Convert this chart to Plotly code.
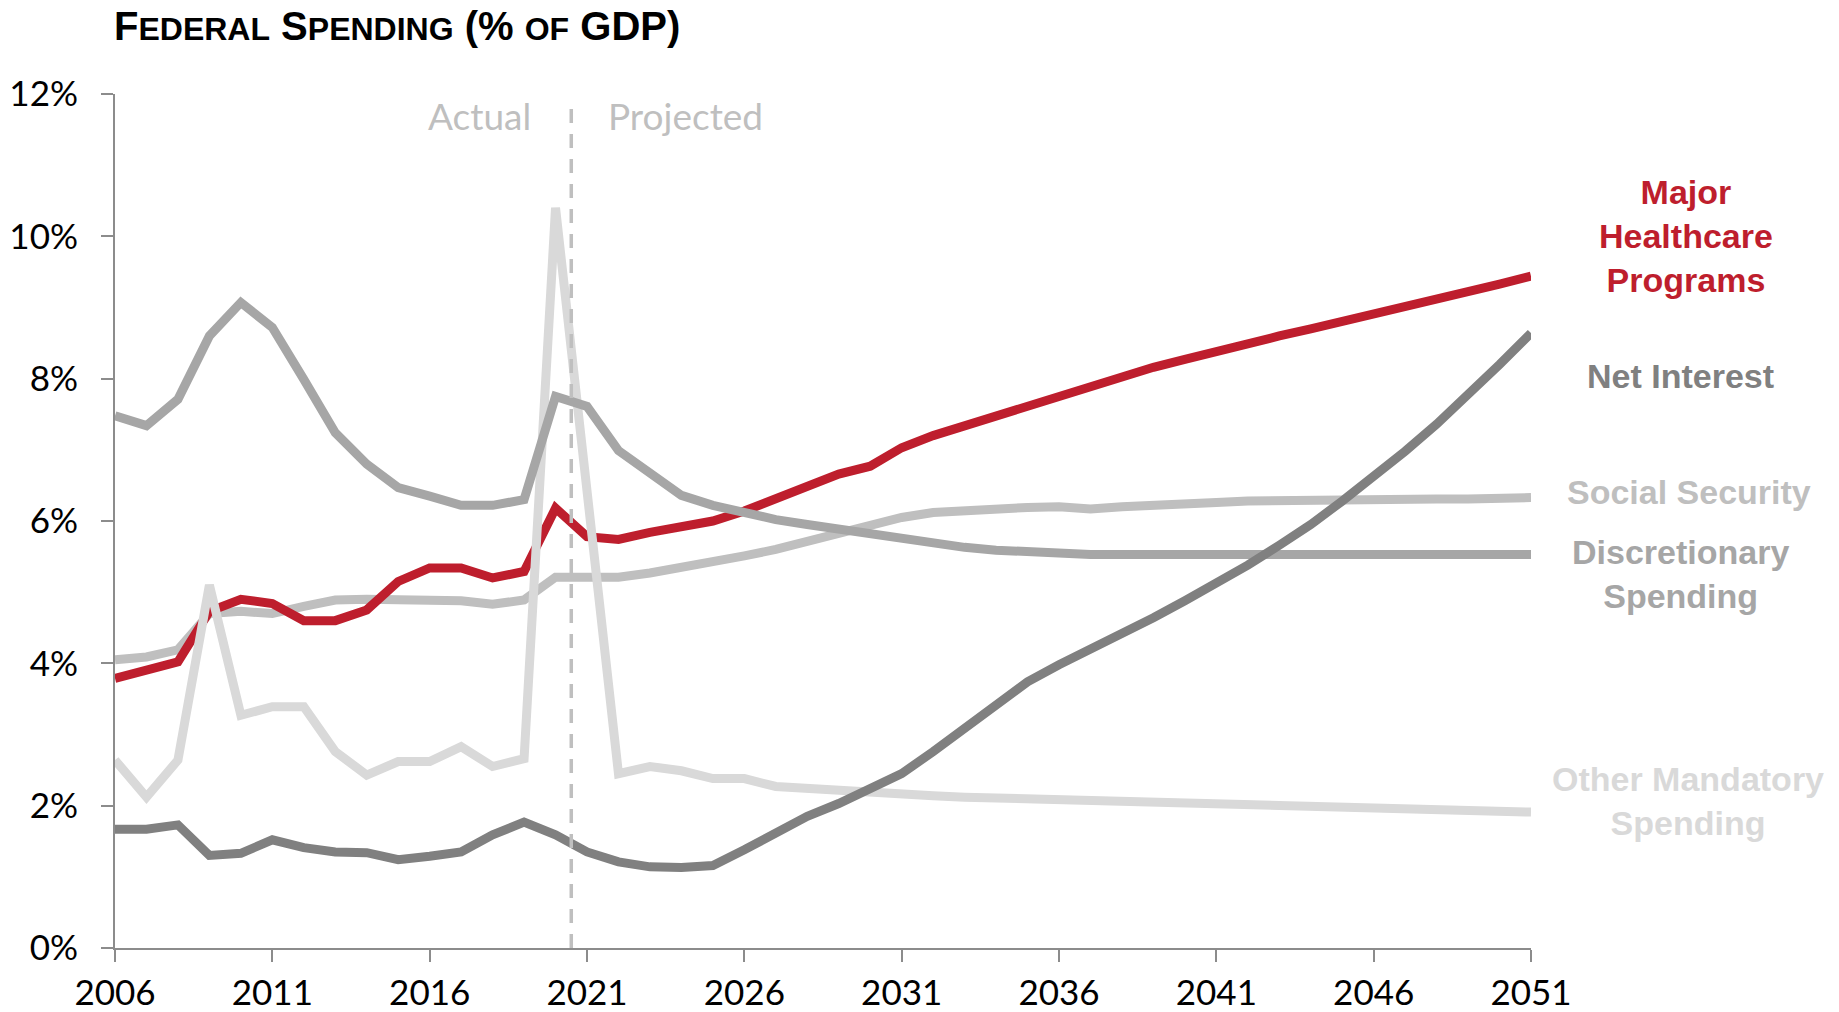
import plotly.graph_objects as go

years = list(range(2006, 2052))

healthcare = [3.79, 3.91, 4.02, 4.73, 4.90, 4.84, 4.60, 4.60, 4.75, 5.15, 5.34, 5.34, 5.20, 5.29,
              6.18, 5.78, 5.74, 5.84, 5.91, 6.00, 6.14, 6.32, 6.49, 6.66,
              6.77, 7.03, 7.20, 7.34, 7.48, 7.62, 7.76, 7.90, 8.04, 8.16,
              8.27, 8.39, 8.49, 8.60, 8.70, 8.80, 8.91, 9.01, 9.12, 9.22, 9.33, 9.44]

social_security = [4.05, 4.09, 4.19, 4.70, 4.73, 4.70, 4.80, 4.89, 4.90, 4.89, 4.91, 4.88, 4.83, 4.89,
                   5.21, 5.20, 5.21, 5.27, 5.34, 5.41, 5.51, 5.60, 5.72, 5.84,
                   5.95, 6.05, 6.12, 6.15, 6.17, 6.19, 6.20, 6.17, 6.20, 6.21,
                   6.22, 6.26, 6.28, 6.29, 6.29, 6.30, 6.30, 6.31, 6.31, 6.31, 6.31, 6.33]

discretionary = [7.48, 7.34, 7.71, 8.60, 9.07, 8.72, 7.99, 7.24, 6.80, 6.47, 6.35, 6.22, 6.22, 6.30,
                 7.75, 7.61, 6.99, 6.67, 6.36, 6.22, 6.11, 6.02, 5.95, 5.88,
                 5.81, 5.74, 5.67, 5.63, 5.59, 5.56, 5.54, 5.53, 5.53, 5.53,
                 5.53, 5.53, 5.53, 5.53, 5.53, 5.53, 5.53, 5.53, 5.53, 5.53, 5.53, 5.53]

other_mandatory = [2.64, 2.12, 2.64, 5.10, 3.27, 3.39, 3.39, 2.76, 2.43, 2.62, 2.62, 2.83, 2.55, 2.66,
                   10.40, 6.42, 2.45, 2.55, 2.49, 2.38, 2.38, 2.27, 2.24, 2.21,
                   2.17, 2.15, 2.14, 2.12, 2.11, 2.10, 2.09, 2.08, 2.07, 2.06,
                   2.05, 2.04, 2.02, 2.01, 2.00, 1.99, 1.97, 1.96, 1.95, 1.93, 1.92, 1.91]

net_interest = [1.67, 1.67, 1.73, 1.30, 1.33, 1.52, 1.41, 1.35, 1.34, 1.24, 1.29, 1.35, 1.59, 1.77,
                1.59, 1.35, 1.21, 1.14, 1.13, 1.16, 1.38, 1.61, 1.85, 2.03,
                2.24, 2.45, 2.76, 3.09, 3.41, 3.74, 3.98, 4.19, 4.42, 4.64,
                4.88, 5.12, 5.38, 5.66, 5.95, 6.28, 6.62, 6.98, 7.36, 7.76, 8.20, 8.64]

x_ticks = [2006, 2011, 2016, 2021, 2026, 2031, 2036, 2041, 2046, 2051]
y_ticks = [0, 2, 4, 6, 8, 10, 12]
y_tick_labels = ["0%", "2%", "4%", "6%", "8%", "10%", "12%"]

RED = "#BE1E2D"
C_SS = "#BFBFBF"
C_DISC = "#A6A6A6"
C_OTHER = "#D9D9D9"
C_INT = "#808080"

fig = go.Figure()

# drawing order: bottom -> top
series = [
    ("Social Security", social_security, C_SS),
    ("Major Healthcare Programs", healthcare, RED),
    ("Other Mandatory Spending", other_mandatory, C_OTHER),
    ("Discretionary Spending", discretionary, C_DISC),
    ("Net Interest", net_interest, C_INT),
]
for name, vals, col in series:
    fig.add_trace(go.Scatter(x=years, y=vals, mode="lines", name=name,
                             line=dict(color=col, width=9), hoverinfo="skip"))

LBL_FONT = "Liberation Sans, Arial, sans-serif"
labels = [
    ("Major<br>Healthcare<br>Programs", 1.1095, 10.0, RED),
    ("Net Interest", 1.1059, 8.04, C_INT),
    ("Social Security", 1.1116, 6.41, C_SS),
    ("Discretionary<br>Spending", 1.1059, 5.26, C_DISC),
    ("Other Mandatory<br>Spending", 1.1109, 2.07, C_OTHER),
]
annotations = []
for txt, xp, yv, col in labels:
    annotations.append(dict(text=txt, x=xp, y=yv, xref="paper", yref="y",
                            xanchor="center", yanchor="middle", align="center",
                            showarrow=False,
                            font=dict(family=LBL_FONT, size=34, color=col, weight="bold")))

sc = "<span style='font-size:32px'>"
title_txt = ("F" + sc + "EDERAL</span> S" + sc + "PENDING</span> (% " + sc + "OF</span> GDP)")
annotations.append(dict(text=title_txt, x=-0.002, y=1.080, xref="paper", yref="paper",
                        xanchor="left", yanchor="middle", showarrow=False,
                        font=dict(family=LBL_FONT, size=40, color="black", weight="bold")))

TICK_FONT = dict(family="Lato, sans-serif", size=35, color="black")
annotations.append(dict(text="Actual", x=2017.57, y=11.7, xref="x", yref="y",
                        xanchor="center", yanchor="middle", showarrow=False,
                        font=dict(family="Lato, sans-serif", size=37, color="#BFBFBF")))
annotations.append(dict(text="Projected", x=2024.14, y=11.7, xref="x", yref="y",
                        xanchor="center", yanchor="middle", showarrow=False,
                        font=dict(family="Lato, sans-serif", size=37, color="#BFBFBF")))

fig.add_shape(type="line", x0=2020.5, x1=2020.5, y0=0, y1=11.85, xref="x", yref="y",
              line=dict(color="#BFBFBF", width=3.5, dash="14px,11px"), layer="above")

axis_common = dict(showline=True, linecolor="#8C8C8C", linewidth=2, ticks="outside",
                   ticklen=12, tickwidth=2, tickcolor="#8C8C8C", showgrid=False,
                   zeroline=False, tickfont=TICK_FONT, automargin=False)

fig.update_layout(
    width=1839, height=1012,
    margin=dict(l=115, r=308, t=94, b=64),
    paper_bgcolor="white", plot_bgcolor="white",
    showlegend=False,
    annotations=annotations,
    xaxis=dict(range=[2006, 2051], tickvals=x_ticks, ticktext=[str(v) for v in x_ticks],
               ticklabelstandoff=1, **axis_common),
    yaxis=dict(range=[0, 12], tickvals=y_ticks, ticktext=y_tick_labels,
               ticklabelstandoff=16, **axis_common),
)

fig.write_html("out.html", config={"displayModeBar": False},
               post_script="document.body.style.margin='0px';")
